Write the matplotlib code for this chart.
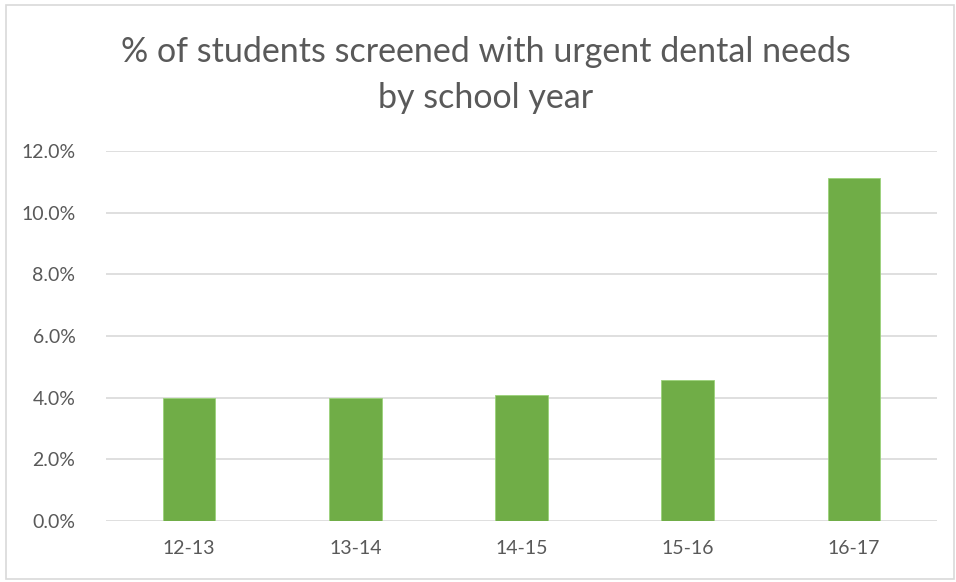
import matplotlib
matplotlib.use("Agg")
import matplotlib.pyplot as plt
from matplotlib.patches import Rectangle
from matplotlib.ticker import FuncFormatter

# Daten
years = ["12-13", "13-14", "14-15", "15-16", "16-17"]
pct_urgent = [4.0, 4.0, 4.08, 4.57, 11.11]
y_ticks = [0, 2, 4, 6, 8, 10, 12]

title = "% of students screened with urgent dental needs\nby school year"

plt.rcParams['font.family'] = ['Lato', 'DejaVu Sans']
W, H = 956, 582
fig = plt.figure(figsize=(W / 100, H / 100), dpi=100)
ax = fig.add_axes([106 / W, (H - 521) / H, (937 - 106) / W, (521 - 151) / H])

# Rahmen um das Diagramm
fig.patches.append(Rectangle((6 / W, 3 / H), (948 / W), (574 / H), transform=fig.transFigure,
                             fill=False, edgecolor="#d9d9d9", linewidth=1.2))

x = range(len(years))
ax.bar(x, pct_urgent, width=0.316, color="#70ad47", edgecolor="#9bd27a", linewidth=0.6, zorder=3)

ax.set_xlim(-0.5, len(years) - 0.5)
ax.set_ylim(0, 12)
ax.set_yticks(y_ticks)
ax.yaxis.set_major_formatter(FuncFormatter(lambda v, p: f"{v:.1f}%"))
ax.set_xticks(list(x))
ax.set_xticklabels(years)
ax.grid(axis="y", color="#d9d9d9", linewidth=1.2, zorder=0)
for s in ax.spines.values():
    s.set_visible(False)
ax.tick_params(axis="both", length=0, labelsize=14, labelcolor="#595959")
ax.tick_params(axis="y", pad=22)
ax.tick_params(axis="x", pad=14)

fig.text(486 / W, 1 - 75 / H, title, ha="center", va="center", fontsize=24.5,
         color="#595959", linespacing=1.55)

fig.savefig("out.png", dpi=100)
